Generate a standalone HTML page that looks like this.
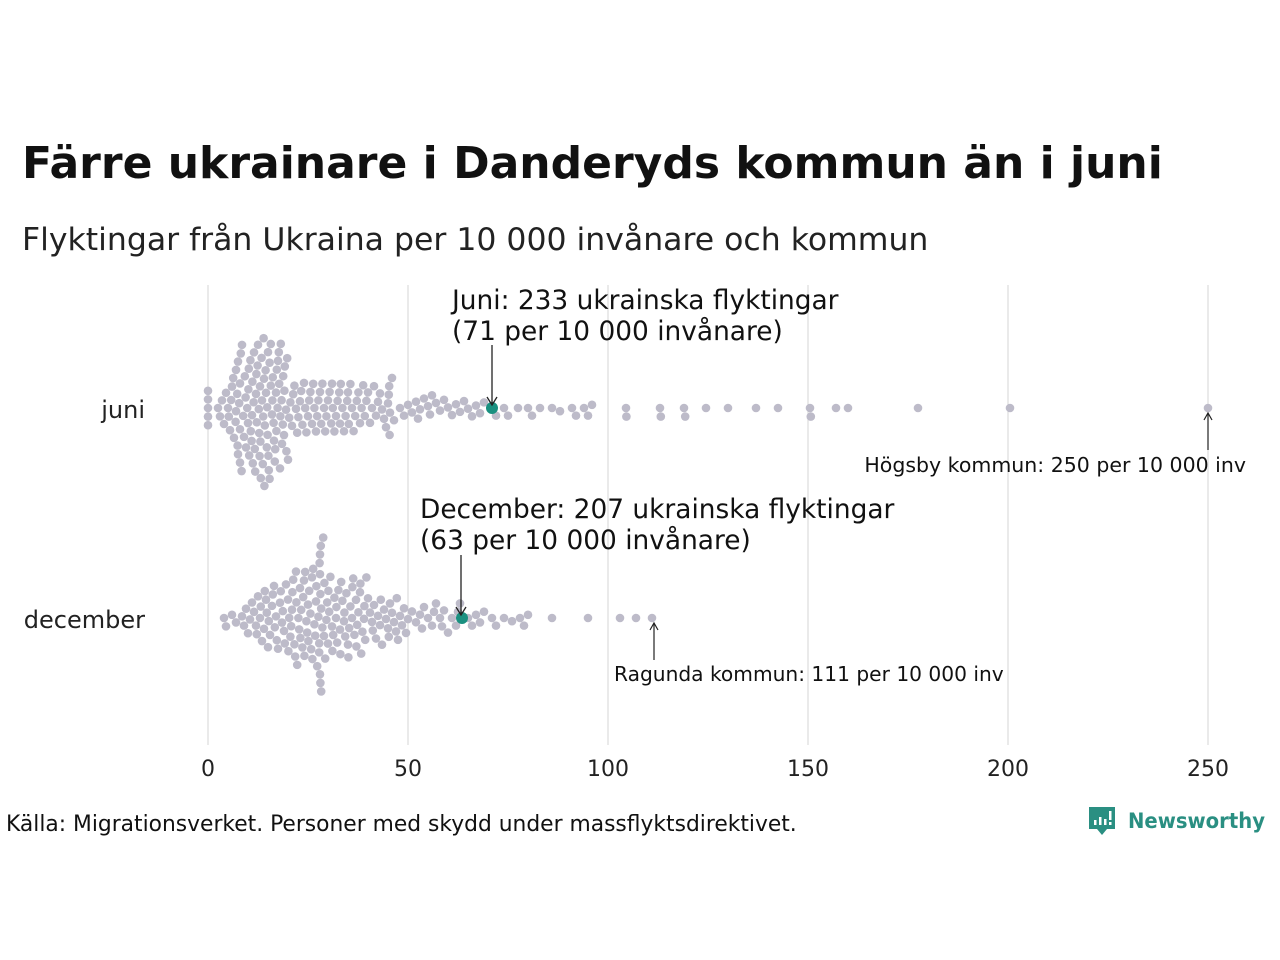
<!DOCTYPE html>
<html><head><meta charset="utf-8">
<style>
body{margin:0;background:#fff;font-family:"Liberation Sans","DejaVu Sans",sans-serif;}
#wrap{position:relative;width:1280px;height:960px;overflow:hidden;}
svg text{font-family:"DejaVu Sans","Liberation Sans",sans-serif;}
</style></head><body>
<div id="wrap">
<svg id="chart" width="1280" height="960">
<text x="22" y="178" font-size="44" font-weight="bold" fill="#111">Färre ukrainare i Danderyds kommun än i juni</text>
<text x="22" y="250" font-size="31.5" fill="#222">Flyktingar från Ukraina per 10 000 invånare och kommun</text>
<g id="grid"></g>
<g id="dots"></g>
<text x="145" y="418" font-size="24" text-anchor="end" fill="#222">juni</text>
<text x="145" y="628" font-size="24" text-anchor="end" fill="#222">december</text>
<g>
<text x="452" y="309" font-size="26.4" fill="#111">Juni: 233 ukrainska flyktingar</text>
<text x="452" y="340" font-size="26.4" fill="#111">(71 per 10 000 invånare)</text>
<line x1="492" y1="345" x2="492" y2="404" stroke="#222" stroke-width="1.3"/>
<path d="M487,397 L492,405 L497,397" fill="none" stroke="#222" stroke-width="1.3"/>
</g>
<g>
<text x="420" y="518" font-size="26.4" fill="#111">December: 207 ukrainska flyktingar</text>
<text x="420" y="549" font-size="26.4" fill="#111">(63 per 10 000 invånare)</text>
<line x1="461" y1="555" x2="461" y2="614" stroke="#222" stroke-width="1.3"/>
<path d="M456,607 L461,615 L466,607" fill="none" stroke="#222" stroke-width="1.3"/>
</g>
<g>
<line x1="1208" y1="450" x2="1208" y2="413" stroke="#222" stroke-width="1.2"/>
<path d="M1204,420 L1208,413 L1212,420" fill="none" stroke="#222" stroke-width="1.2"/>
<text x="1246" y="472" font-size="20.5" text-anchor="end" fill="#111">Högsby kommun: 250 per 10 000 inv</text>
</g>
<g>
<line x1="654" y1="660" x2="654" y2="623" stroke="#222" stroke-width="1.2"/>
<path d="M650,630 L654,623 L658,630" fill="none" stroke="#222" stroke-width="1.2"/>
<text x="614" y="681" font-size="20.2" fill="#111">Ragunda kommun: 111 per 10 000 inv</text>
</g>
<text x="6" y="831" font-size="21.8" fill="#111">Källa: Migrationsverket. Personer med skydd under massflyktsdirektivet.</text>
<g>
<path d="M1089,807 h26 v22 h-8 l-5,6 l-5,-6 h-8 z" fill="#2a8f82"/>
<rect x="1094" y="820" width="2.5" height="5" fill="#fff"/>
<rect x="1099" y="817" width="2.5" height="8" fill="#fff"/>
<rect x="1104" y="819" width="2.5" height="6" fill="#fff"/>
<rect x="1109" y="811" width="2.5" height="9" fill="#fff"/>
<rect x="1109" y="822" width="2.5" height="3" fill="#fff"/>
<text x="1128" y="828" font-size="21" font-weight="bold" fill="#2a8f82" textLength="137" lengthAdjust="spacingAndGlyphs">Newsworthy</text>
</g>
</svg>
</div>
<script>
const ticks=[0,50,100,150,200,250];
const juniValues=[0,0,0,0,0,2.5,3,3.5,4,4.5,5,5.5,6,6.5,7,7,7.3,7.5,7.5,7.8,8,8,8,8.2,8.5,8.8,9,9.2,9.5,9.8,
5.2,5.8,6.3,6.9,7.4,8.4,9.4,10.2,10.9,11.4,12.4,12.9,13.4,13.9,14.4,14.9,15.4,16.4,17.4,18.4,
10,10.3,10.6,11,11.2,11.5,11.8,12,12.2,12.5,12.8,13,13.2,13.5,13.8,14,14.2,14.5,14.8,15,15.2,15.4,15.7,16,16.2,16.5,16.8,17,17.2,17.5,17.8,18,18.2,18.5,18.8,19,19.2,19.5,19.8,
10.1,11.1,12.1,13.1,14.1,15.1,16.1,17.1,18.1,19.1,10.7,11.7,12.7,13.7,14.7,15.7,16.7,17.7,18.7,19.6,
20,20.3,20.6,21,21.3,21.6,22,22.3,22.6,23,23.3,23.6,24,24.3,24.6,25,25.3,25.6,26,26.3,26.6,27,27.3,27.6,28,28.3,28.6,29,29.3,29.6,
30,30.4,30.8,31.2,31.6,32,32.4,32.8,33.2,33.6,34,34.4,34.8,35.2,35.6,36,36.4,36.8,37.2,37.6,38,38.4,38.8,39.2,39.6,31,33,35,
40,40.5,41,41.5,42,42.5,43,43.5,44,44.5,45,45.5,46,46.5,45.2,45.3,45.4,
48,49,50,51,52,53,54,55,56,57,58,59,52.5,55.5,
60,61,62,63,64,65,66,67,68,69,71,72,
74,75,77.5,80,81,83,86,88,91,92,94,95,96,
104.5,104.6,113,113.2,119,119.3,124.5,130,137,142.5,150.5,150.7,157,160,177.5,200.5,250];
const decemberValues=[4,4.5,6,7,8.5,9,9.5,
10,10.5,11,11.5,12,12.5,13,13.5,14,14.5,15,15.5,16,16.5,17,17.5,18,18.5,19,19.5,12.2,13.2,14.2,15.2,16.2,17.2,18.2,19.2,14.7,16.7,18.7,
20,20.3,20.6,21,21.3,21.6,22,22.3,22.6,23,23.3,23.6,24,24.3,24.6,25,25.3,25.6,26,26.3,26.6,27,27.3,27.6,28,28.3,28.6,29,29.3,29.6,
20.1,21.1,22.1,23.1,24.1,25.1,26.1,27.1,28.1,29.1,20.8,21.8,22.8,23.8,24.8,25.8,26.8,27.8,28.8,29.8,28,28,28.2,27.9,28.1,28.3,27.8,
30,30.3,30.6,31,31.3,31.6,32,32.3,32.6,33,33.3,33.6,34,34.3,34.6,35,35.3,35.6,36,36.3,36.6,37,37.3,37.6,38,38.3,38.6,39,39.3,39.6,
30.1,31.1,32.1,33.1,34.1,35.1,36.1,37.1,38.1,39.1,
40,40.5,41,41.5,42,42.5,43,43.5,44,44.5,45,45.5,46,46.5,47,47.5,48,48.5,49,49.5,41.2,43.2,45.2,47.2,
50,51,52,53,54,55,56,57,58,59,53.5,56.5,58.5,
60,61,62,62.5,63,65,66,67,68,69,71,72,
74,76,78,79,80,86,95,103,107,111];
const juniHighlight=71, decemberHighlight=63.5;

const NS="http://www.w3.org/2000/svg";
const x0=208,x1=1208,vmax=250;
function xScale(v){return x0+(v/vmax)*(x1-x0);}
const grid=document.getElementById('grid');
ticks.forEach(t=>{
 const l=document.createElementNS(NS,'line');
 l.setAttribute('x1',xScale(t));l.setAttribute('x2',xScale(t));
 l.setAttribute('y1',285);l.setAttribute('y2',745);
 l.setAttribute('stroke','#d4d4d4');l.setAttribute('stroke-width','1');
 
 
 grid.appendChild(l);
 const tx=document.createElementNS(NS,'text');
 tx.setAttribute('x',xScale(t));tx.setAttribute('y',776);
 tx.setAttribute('text-anchor','middle');tx.setAttribute('font-size','22');tx.setAttribute('fill','#222');
 tx.textContent=t;
 
 
 grid.appendChild(tx);
});
const dots=document.getElementById('dots');
const R=4.3;
function swarm(values,cy,name){
 const sorted=values.slice().sort((a,b)=>a-b);
 const placed=[];
 sorted.forEach(v=>{
  const x=xScale(v);
  const near=placed.filter(p=>Math.abs(p.x-x)<2*R);
  let best=0;
  const cands=[0];
  near.forEach(p=>{const dx=x-p.x;const dy=Math.sqrt(Math.max(0,4*R*R-dx*dx));cands.push(p.y+dy+0.01,p.y-dy-0.01);});
  cands.sort((a,b)=>Math.abs(a)-Math.abs(b));
  for(const c of cands){
   if(near.every(p=>(p.x-x)**2+(p.y-c)**2>=4*R*R-0.05)){best=c;break;}
  }
  placed.push({x:x,y:best});
  const c=document.createElementNS(NS,'circle');
  c.setAttribute('cx',x);c.setAttribute('cy',cy+best);c.setAttribute('r',R);
  c.setAttribute('fill','#bdbbc9');
  
  
  dots.appendChild(c);
 });
}
swarm(juniValues,408,'juni-municipality-dot');
swarm(decemberValues,618,'december-municipality-dot');
function hl(v,cy,name){
 const c=document.createElementNS(NS,'circle');
 c.setAttribute('cx',xScale(v));c.setAttribute('cy',cy);c.setAttribute('r',6);
 c.setAttribute('fill','#1a9080');
 
 
 dots.appendChild(c);
}
hl(juniHighlight,408,'danderyd-juni-dot');
hl(decemberHighlight,618,'danderyd-december-dot');
</script>
</body></html>
